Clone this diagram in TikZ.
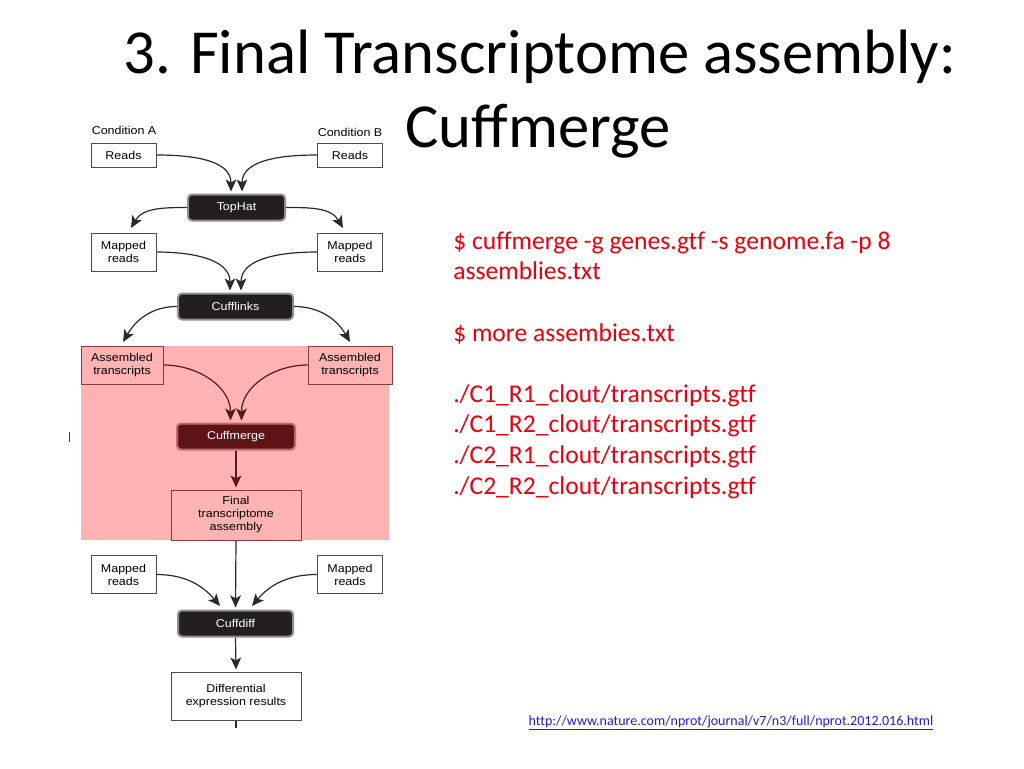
\documentclass[tikz,border=0pt]{standalone}
\usepackage{fontspec}
\setmainfont{Carlito}
\newfontfamily\cmdfont[Ligatures=NoCommon]{Carlito}
\newfontfamily\diagfont[FakeStretch=1.1]{Liberation Sans}
\usetikzlibrary{arrows.meta,calc}
\definecolor{pinkbg}{HTML}{FFB3B3}
\definecolor{toolfill}{HTML}{231F20}
\definecolor{tooledge}{HTML}{8E8E8E}
\definecolor{mergefill}{HTML}{5E1416}
\definecolor{mergeedge}{HTML}{C06A6A}
\definecolor{redtext}{HTML}{E8000B}
\definecolor{linkblue}{HTML}{1F1FCC}
\definecolor{pinkedge}{HTML}{8A3A3A}
\definecolor{darkred}{HTML}{5A1A1A}
\definecolor{arrgray}{HTML}{2A2A2A}
\begin{document}
\begin{tikzpicture}[x=0.75pt,y=-0.75pt,
  dtext/.style={font=\diagfont\fontsize{8.5}{9.75}\selectfont, align=center, inner sep=0pt},
  wbox/.style={dtext, draw=black!70, fill=white, line width=0.75pt, minimum width=48.75pt},
  onel/.style={minimum height=18pt},
  twol/.style={minimum height=28.5pt},
  pbox/.style={dtext, draw=pinkedge, fill=pinkbg, line width=0.75pt, minimum height=28.5pt},
  tool/.style={dtext, rounded corners=3pt, fill=toolfill, draw=tooledge, line width=1.5pt, text=white, minimum height=19.5pt},
  merge/.style={tool, fill=mergefill, draw=mergeedge},
  arr/.style={draw=arrgray, line width=0.9pt, -{Stealth[length=9pt,width=8pt,inset=2.2pt]}},
  darr/.style={arr, draw=darkred, -{Stealth[length=9pt,width=8pt,inset=2.2pt,color=darkred]}},
  plain/.style={draw=arrgray, line width=0.9pt}
]
\useasboundingbox (0,0) rectangle (1024,768);
\fill[white] (0,0) rectangle (1024,768);

% title
\node[anchor=base, font=\fontsize{47}{55}\selectfont, inner sep=0pt] (title1) at (540,73) {3. Final Transcriptome assembly:};
\node[anchor=base, font=\fontsize{47}{55}\selectfont, inner sep=0pt] (title2) at (538,147) {Cuffmerge};

% pink region
\fill[pinkbg] (81,346) rectangle (389,540);

% top section
\node[dtext] (condA) at (124,130) {Condition A};
\node[dtext] (condB) at (350,132) {Condition B};
\node[wbox, onel] (readsA) at (123.5,155) {Reads};
\node[wbox, onel] (readsB) at (350,155) {Reads};
\node[tool, minimum width=72.75pt] (tophat) at (236.5,207.5) {TopHat};
\node[wbox, twol] (mapA) at (123.5,252) {Mapped\\reads};
\node[wbox, twol] (mapB) at (350,252) {Mapped\\reads};
\node[tool, minimum width=86.25pt] (cufflinks) at (235.5,306.5) {Cufflinks};
\node[pbox, minimum width=61.5pt] (asmA) at (122,365) {Assembled\\transcripts};
\node[pbox, minimum width=63pt] (asmB) at (350,365) {Assembled\\transcripts};
\node[merge, minimum width=88.5pt] (cuffmerge) at (236,436.5) {Cuffmerge};
\node[pbox, minimum width=97.5pt, minimum height=37.5pt] (final) at (236,515) {Final\\transcriptome\\assembly};
\node[wbox, twol] (map2A) at (123.5,574.5) {Mapped\\reads};
\node[wbox, twol] (map2B) at (350,574.5) {Mapped\\reads};
\node[tool, minimum width=86.25pt] (cuffdiff) at (235.5,623.5) {Cuffdiff};
\node[wbox, minimum width=97.5pt, minimum height=36pt] (diff) at (236,696) {Differential\\expression results};

% connector end points
\coordinate (tA) at ($(tophat.north)+(-5.5,-2)$);
\coordinate (tB) at ($(tophat.north)+(5.5,-2)$);
\coordinate (mA) at (131,228);
\coordinate (mB) at (343,228);
\coordinate (cA) at ($(cufflinks.north)+(-5.5,-2)$);
\coordinate (cB) at ($(cufflinks.north)+(5.5,-2)$);
\coordinate (aA) at (123,342);
\coordinate (aB) at (350,342);
\coordinate (gA) at ($(cuffmerge.north)+(-5.5,-2)$);
\coordinate (gB) at ($(cuffmerge.north)+(5.5,-2)$);
\coordinate (dA) at (220,606);
\coordinate (dM) at ($(cuffdiff.north)+(0,-2)$);
\coordinate (dB) at (252,606);

\draw[arr] (readsA.east) to[out=0,in=90] (tA);
\draw[arr] (readsB.west) to[out=180,in=90] (tB);
\draw[arr] (tophat.west) to[out=180,in=60] (mA);
\draw[arr] (tophat.east) to[out=0,in=120] (mB);
\draw[arr] (mapA.east) to[out=0,in=90] (cA);
\draw[arr] (mapB.west) to[out=180,in=90] (cB);
\draw[arr] (cufflinks.west) to[out=180,in=60] (aA);
\draw[arr] (cufflinks.east) to[out=0,in=120] (aB);
\draw[darr] (asmA.east) to[out=0,in=90] (gA);
\draw[darr] (asmB.west) to[out=180,in=90] (gB);
\draw[darr] (cuffmerge.south) -- ($(final.north)+(0,-2)$);
\draw[arr] (final.south) -- (dM);
\draw[arr] (map2A.east) to[out=0,in=130] (dA);
\draw[arr] (map2B.west) to[out=180,in=50] (dB);
\draw[arr] (cuffdiff.south) -- ($(diff.north)+(0,-2)$);
\draw[plain] (diff.south) -- ++(0,7);

% small tick at left
\draw[line width=1.2pt, black!75] (69.5,432) -- (69.5,442);

% red command text
\node[anchor=base west, inner sep=0pt, align=left, text=redtext, font=\cmdfont\fontsize{19.2}{22.95}\selectfont] (cmd) at (453,494)
  {\$ cuffmerge -g genes.gtf -s genome.fa -p 8\\
   assemblies.txt\\[22.95pt]
   \$ more assembies.txt\\[22.95pt]
   ./C1\_R1\_clout/transcripts.gtf\\
   ./C1\_R2\_clout/transcripts.gtf\\
   ./C2\_R1\_clout/transcripts.gtf\\
   ./C2\_R2\_clout/transcripts.gtf};

% link
\node[anchor=base, inner sep=0pt, text=linkblue, font=\cmdfont\fontsize{10.5}{12}\selectfont] (link) at (731,725)
  {\underline{http://www.nature.com/nprot/journal/v7/n3/full/nprot.2012.016.html}};
\end{tikzpicture}
\end{document}
